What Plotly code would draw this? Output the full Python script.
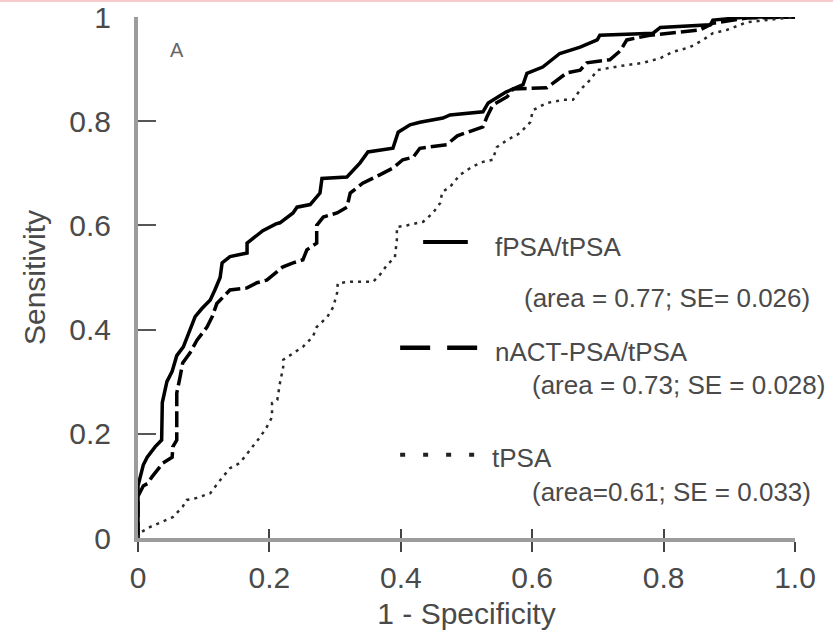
import plotly.graph_objects as go

# ---- data ----
fpsa_x = [0, 0.0, 0.008, 0.014, 0.026, 0.036, 0.037, 0.044, 0.052, 0.059, 0.069, 0.076, 0.087, 0.097,
          0.11, 0.117, 0.125, 0.128, 0.14, 0.166, 0.166, 0.19, 0.21, 0.216, 0.236, 0.242, 0.262, 0.277,
          0.28, 0.318, 0.338, 0.35, 0.388, 0.396, 0.414, 0.429, 0.464, 0.475, 0.525, 0.533, 0.546, 0.56,
          0.586, 0.592, 0.616, 0.642, 0.673, 0.699, 0.703, 0.784, 0.795, 0.871, 0.875, 0.927, 1.0]
fpsa_y = [0, 0.10, 0.14, 0.155, 0.175, 0.188, 0.26, 0.30, 0.32, 0.35, 0.367, 0.39, 0.425, 0.44,
          0.457, 0.476, 0.50, 0.528, 0.54, 0.547, 0.566, 0.59, 0.603, 0.605, 0.624, 0.635, 0.64, 0.662,
          0.69, 0.693, 0.72, 0.741, 0.748, 0.779, 0.793, 0.798, 0.806, 0.812, 0.818, 0.835, 0.845, 0.856,
          0.87, 0.892, 0.904, 0.93, 0.942, 0.956, 0.965, 0.969, 0.98, 0.985, 0.994, 1.0, 1.0]

nact_x = [0, 0.0, 0.008, 0.015, 0.021, 0.029, 0.038, 0.052, 0.053, 0.059, 0.059, 0.064, 0.068, 0.079,
          0.09, 0.105, 0.113, 0.12, 0.13, 0.14, 0.166, 0.181, 0.196, 0.205, 0.22, 0.236, 0.251, 0.257,
          0.272, 0.272, 0.282, 0.303, 0.318, 0.323, 0.342, 0.368, 0.388, 0.403, 0.419, 0.429, 0.47, 0.486,
          0.51, 0.525, 0.531, 0.54, 0.562, 0.571, 0.622, 0.638, 0.653, 0.673, 0.683, 0.718, 0.734, 0.744,
          0.779, 0.855, 0.875, 0.927, 1.0]
nact_y = [0, 0.08, 0.10, 0.105, 0.117, 0.13, 0.144, 0.155, 0.175, 0.188, 0.278, 0.309, 0.336, 0.355,
          0.38, 0.405, 0.425, 0.45, 0.463, 0.476, 0.48, 0.49, 0.495, 0.505, 0.52, 0.528, 0.534, 0.553,
          0.566, 0.60, 0.616, 0.624, 0.635, 0.662, 0.681, 0.697, 0.71, 0.726, 0.731, 0.748, 0.755, 0.772,
          0.783, 0.789, 0.808, 0.831, 0.847, 0.862, 0.864, 0.879, 0.893, 0.898, 0.912, 0.918, 0.935, 0.956,
          0.965, 0.975, 0.988, 0.998, 1.0]

tpsa_x = [0, 0.003, 0.018, 0.038, 0.053, 0.068, 0.074, 0.09, 0.11, 0.125, 0.14, 0.155, 0.167, 0.175,
          0.186, 0.196, 0.204, 0.204, 0.212, 0.216, 0.221, 0.221, 0.236, 0.251, 0.266, 0.272, 0.288, 0.297,
          0.303, 0.304, 0.323, 0.358, 0.368, 0.379, 0.391, 0.394, 0.394, 0.409, 0.434, 0.449, 0.46, 0.463,
          0.475, 0.49, 0.508, 0.525, 0.54, 0.546, 0.562, 0.581, 0.597, 0.601, 0.622, 0.647, 0.662, 0.673,
          0.688, 0.699, 0.734, 0.769, 0.795, 0.814, 0.84, 0.86, 0.875, 0.896, 0.927, 1.0]
tpsa_y = [0, 0.01, 0.021, 0.031, 0.04, 0.06, 0.073, 0.077, 0.086, 0.111, 0.134, 0.144, 0.163, 0.175,
          0.194, 0.213, 0.232, 0.259, 0.265, 0.297, 0.328, 0.342, 0.355, 0.367, 0.386, 0.405, 0.424, 0.443,
          0.47, 0.489, 0.492, 0.492, 0.505, 0.524, 0.539, 0.572, 0.597, 0.60, 0.607, 0.624, 0.643, 0.664,
          0.674, 0.697, 0.712, 0.722, 0.726, 0.75, 0.764, 0.777, 0.798, 0.821, 0.835, 0.841, 0.841, 0.86,
          0.879, 0.898, 0.906, 0.912, 0.921, 0.933, 0.942, 0.956, 0.969, 0.975, 0.99, 1.0]

x_tickvals = [0, 0.2, 0.4, 0.6, 0.8, 1.0]
x_ticktext = ["0", "0.2", "0.4", "0.6", "0.8", "1.0"]
y_tickvals = [0, 0.2, 0.4, 0.6, 0.8, 1.0]
y_ticktext = ["0", "0.2", "0.4", "0.6", "0.8", "1"]

series_names = ["fPSA/tPSA", "nACT-PSA/tPSA", "tPSA"]
series_stats = ["(area = 0.77; SE= 0.026)", "(area = 0.73; SE = 0.028)", "(area=0.61; SE = 0.033)"]

FONT = "Liberation Sans, Arial, sans-serif"
TXT = "#4a4a4a"
AXC = "#9c9c9c"

fig = go.Figure()
fig.add_trace(go.Scatter(x=fpsa_x, y=fpsa_y, mode="lines", name=series_names[0],
                         line=dict(color="#000000", width=3.5)))
fig.add_trace(go.Scatter(x=nact_x, y=nact_y, mode="lines", name=series_names[1],
                         line=dict(color="#000000", width=3.5, dash="16px,5px")))
fig.add_trace(go.Scatter(x=tpsa_x, y=tpsa_y, mode="lines", name=series_names[2],
                         line=dict(color="#2a2a2a", width=2.5, dash="3px,5px")))

# legend samples (paper coordinates)
shapes = [
    dict(type="line", xref="paper", yref="paper", x0=0.434, x1=0.502, y0=0.568, y1=0.568,
         line=dict(color="#000", width=4)),
    dict(type="line", xref="paper", yref="paper", x0=0.399, x1=0.517, y0=0.365, y1=0.365,
         line=dict(color="#000", width=4.5, dash="30px,17px")),
    dict(type="line", xref="paper", yref="paper", x0=0.399, x1=0.517, y0=0.160, y1=0.160,
         line=dict(color="#222", width=4, dash="5px,18px")),
    # thin pink band at very top of the image
    dict(type="rect", xref="paper", yref="paper", x0=-0.25, x1=1.1, y0=1.0288, y1=1.04,
         line=dict(width=0), fillcolor="#f9caca"),
]

def label(text, x, y, size=26, color=TXT):
    return dict(text=text, x=x, y=y, xref="paper", yref="paper", xanchor="left", yanchor="middle",
                showarrow=False, font=dict(size=size, color=color, family=FONT))

ann = [
    dict(text="A", x=0.059, y=0.937, xref="paper", yref="paper", xanchor="center", yanchor="middle",
         showarrow=False, font=dict(size=20, color="#666", family=FONT)),
    label(series_names[0], 0.540, 0.559),
    label(series_stats[0], 0.584, 0.461),
    label(series_names[1], 0.540, 0.357),
    label(series_stats[1], 0.597, 0.294),
    label(series_names[2], 0.536, 0.154),
    label(series_stats[2], 0.597, 0.088),
]

fig.update_layout(
    width=833, height=636,
    margin=dict(l=138, r=38, t=17, b=98, autoexpand=False),
    paper_bgcolor="white", plot_bgcolor="white",
    showlegend=False,
    shapes=shapes, annotations=ann,
    xaxis=dict(range=[0, 1], tickvals=x_tickvals, ticktext=x_ticktext,
               showgrid=False, zeroline=False, showline=True, linecolor=AXC, linewidth=4,
               ticks="outside", ticklen=10, tickwidth=2, tickcolor="#444",
               tickfont=dict(size=30, color=TXT, family=FONT),
               title=dict(text="1 - Specificity", font=dict(size=30, color=TXT, family=FONT), standoff=11)),
    xaxis2=dict(range=[0, 1], overlaying="x", anchor="y", side="bottom", tickvals=x_tickvals,
                showticklabels=False, showgrid=False, zeroline=False, showline=False,
                ticks="inside", ticklen=9, tickwidth=2, tickcolor="#444"),
    yaxis=dict(range=[0, 1], tickvals=y_tickvals, ticktext=y_ticktext,
               showgrid=False, zeroline=False, showline=True, linecolor=AXC, linewidth=4,
               ticks="inside", ticklen=18, tickwidth=2, tickcolor="#555",
               tickfont=dict(size=30, color=TXT, family=FONT), ticklabelstandoff=17,
               title=dict(text="Sensitivity", font=dict(size=30, color=TXT, family=FONT), standoff=16)),
)
# invisible helper so the overlaying x-axis (crossing tick halves) is drawn
fig.add_trace(go.Scatter(x=[0, 1], y=[0, 0], xaxis="x2", mode="lines", line=dict(width=0),
                         hoverinfo="skip", showlegend=False, opacity=0))

fig.write_html("out.html", config={"displayModeBar": False},
               post_script="document.body.style.margin='0px';")
